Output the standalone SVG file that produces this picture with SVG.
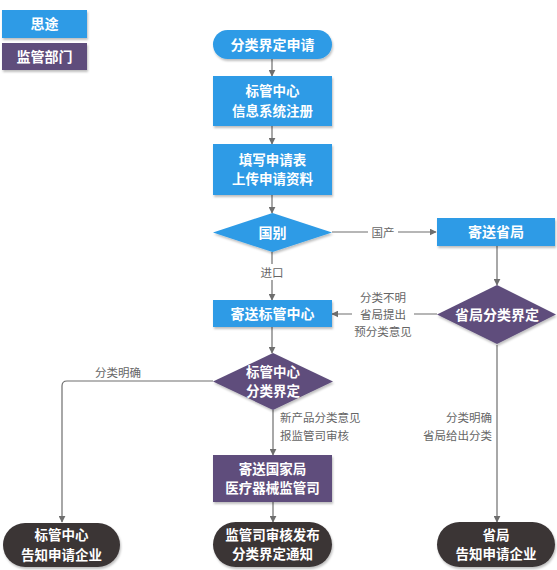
<svg xmlns="http://www.w3.org/2000/svg" width="557" height="570" viewBox="0 0 557 570">
<style>
.t{font-family:"Noto Sans CJK SC","Liberation Sans",sans-serif;font-size:13.5px;font-weight:bold;fill:#fff;text-anchor:middle}
.t1{font-size:14px}
.l{font-family:"Noto Sans CJK SC","Liberation Sans",sans-serif;font-size:11.5px;fill:#666}
.blue{fill:#2d9be6}
.purple{fill:#5e4e7b}
.dark{fill:#3b3536}
.c{fill:none;stroke:#6e6e6e;stroke-width:1.2}
</style>
<defs>
<marker id="ah" viewBox="0 0 10 10" refX="9" refY="5" markerWidth="7" markerHeight="7" orient="auto" markerUnits="userSpaceOnUse">
<path d="M0,0 L10,5 L0,10 z" fill="#6e6e6e"/>
</marker>
<filter id="sh" x="-10%" y="-10%" width="130%" height="140%">
<feDropShadow dx="1" dy="2" stdDeviation="1.2" flood-color="#000" flood-opacity="0.25"/>
</filter>
</defs>
<rect width="557" height="570" fill="#fff"/>
<g id="legend">
<g id="legend-situ"><rect x="2" y="10" width="85" height="28" class="blue" filter="url(#sh)"/><text x="44.5" y="29" class="t t1">思途</text></g>
<g id="legend-jianguan"><rect x="2" y="43" width="85" height="27" class="purple" filter="url(#sh)"/><text x="44.5" y="61.5" class="t t1">监管部门</text></g>
</g>
<g id="connectors">
<line x1="272" y1="59" x2="272" y2="76" class="c" marker-end="url(#ah)"/>
<line x1="272" y1="126" x2="272" y2="144" class="c" marker-end="url(#ah)"/>
<line x1="272" y1="195" x2="272" y2="213" class="c" marker-end="url(#ah)"/>
<line x1="332" y1="232" x2="436" y2="232" class="c" marker-end="url(#ah)"/>
<rect x="368" y="224" width="30" height="16" fill="#fff"/>
<text x="383" y="236.5" class="l" text-anchor="middle">国产</text>
<line x1="272" y1="252" x2="272" y2="300" class="c" marker-end="url(#ah)"/>
<rect x="257" y="264" width="30" height="16" fill="#fff"/>
<text x="272" y="276.5" class="l" text-anchor="middle">进口</text>
<line x1="497" y1="246" x2="497" y2="285" class="c" marker-end="url(#ah)"/>
<line x1="437" y1="314" x2="332" y2="314" class="c" marker-end="url(#ah)"/>
<rect x="352" y="306" width="62" height="16" fill="#fff"/>
<text x="383" y="301.5" class="l" text-anchor="middle">分类不明</text>
<text x="383" y="318.5" class="l" text-anchor="middle">省局提出</text>
<text x="383" y="335.5" class="l" text-anchor="middle">预分类意见</text>
<line x1="272" y1="327" x2="272" y2="353" class="c" marker-end="url(#ah)"/>
<path d="M213,381 H67 Q62,381 62,386 V522" class="c" marker-end="url(#ah)"/>
<text x="118" y="377" class="l" text-anchor="middle">分类明确</text>
<line x1="273" y1="410" x2="273" y2="455" class="c" marker-end="url(#ah)"/>
<text x="280" y="422" class="l">新产品分类意见</text>
<text x="280" y="440" class="l">报监管司审核</text>
<line x1="273" y1="502" x2="273" y2="522" class="c" marker-end="url(#ah)"/>
<line x1="497" y1="345" x2="497" y2="522" class="c" marker-end="url(#ah)"/>
<text x="492" y="422" class="l" text-anchor="end">分类明确</text>
<text x="492" y="440" class="l" text-anchor="end">省局给出分类</text>
</g>
<g id="start"><rect x="213" y="30" width="119" height="29" rx="14.5" class="blue" filter="url(#sh)"/><text x="272.5" y="49.5" class="t t1">分类界定申请</text></g>
<g id="register"><rect x="213" y="76" width="119" height="50" class="blue" filter="url(#sh)"/><text x="272.5" y="96.1" class="t">标管中心</text><text x="272.5" y="115.7" class="t">信息系统注册</text></g>
<g id="fill"><rect x="213" y="144" width="119" height="51" class="blue" filter="url(#sh)"/><text x="272.5" y="164.6" class="t">填写申请表</text><text x="272.5" y="184.2" class="t">上传申请资料</text></g>
<g id="country"><polygon points="272.5,213 332,232.5 272.5,252 213,232.5" class="blue" filter="url(#sh)"/><text x="272.5" y="237.5" class="t t1">国别</text></g>
<g id="send-province"><rect x="437" y="218" width="118" height="28" class="blue" filter="url(#sh)"/><text x="496" y="237" class="t t1">寄送省局</text></g>
<g id="province-classify"><polygon points="497,285 556,314.5 497,344 437,314.5" class="purple" filter="url(#sh)"/><text x="497" y="319.5" class="t t1">省局分类界定</text></g>
<g id="send-center"><rect x="213" y="300" width="119" height="27" class="blue" filter="url(#sh)"/><text x="272.5" y="318.5" class="t t1">寄送标管中心</text></g>
<g id="center-classify"><polygon points="273,353 333,381.5 273,410 213,381.5" class="purple" filter="url(#sh)"/><text x="273" y="376.6" class="t">标管中心</text><text x="273" y="396.2" class="t">分类界定</text></g>
<g id="send-national"><rect x="213" y="455" width="119" height="47" class="purple" filter="url(#sh)"/><text x="272.5" y="473.6" class="t">寄送国家局</text><text x="272.5" y="493.2" class="t">医疗器械监管司</text></g>
<g id="end-center"><rect x="3" y="523" width="117" height="44" rx="22" class="dark" filter="url(#sh)"/><text x="61.5" y="540.1" class="t">标管中心</text><text x="61.5" y="559.7" class="t">告知申请企业</text></g>
<g id="end-national"><rect x="213" y="522" width="119" height="45" rx="22.5" class="dark" filter="url(#sh)"/><text x="272.5" y="539.6" class="t">监管司审核发布</text><text x="272.5" y="559.2" class="t">分类界定通知</text></g>
<g id="end-province"><rect x="437" y="522" width="118" height="45" rx="22.5" class="dark" filter="url(#sh)"/><text x="496" y="539.6" class="t">省局</text><text x="496" y="559.2" class="t">告知申请企业</text></g>
</svg>
